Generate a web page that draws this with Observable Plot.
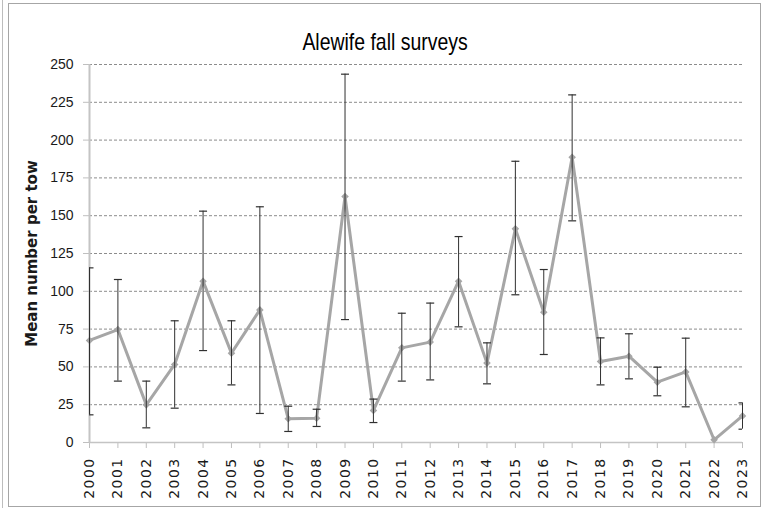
<!DOCTYPE html>
<html>
<head>
<meta charset="utf-8">
<script src="https://cdn.jsdelivr.net/npm/d3@7"></script>
<script src="https://cdn.jsdelivr.net/npm/@observablehq/plot@0.6"></script>
<style>
  body { margin: 0; background: #fff; }
  #wrap { position: relative; width: 770px; height: 508px; overflow: hidden; background: #fff; }
  #frame { position: absolute; left: 8px; top: 3px; width: 753px; height: 504px; border: 1.5px solid #a6a6a6; box-sizing: border-box; pointer-events: none; }
  #edge { position: absolute; left: 2px; top: 0; width: 1px; height: 508px; background: #bdbdbd; }
  #title { position: absolute; left: 0; width: 770px; top: 30px; text-align: center; line-height: 1; }
  #title span { display: inline-block; font-family: "Liberation Sans", Arial, sans-serif; font-size: 24px; color: #000; transform: scaleX(0.81); transform-origin: 50% 50%; white-space: nowrap; }
  #chart { position: absolute; left: 0; top: 0; }
  #chart svg text { fill: #1a1a1a; }
  #chart g[aria-label^="y-axis"] text { font-family: "Liberation Sans", Arial, sans-serif; font-size: 14px; }
  #chart g[aria-label^="x-axis"] text { font-family: "DejaVu Sans", sans-serif; font-size: 14px; letter-spacing: 1.4px; }
  #chart g[aria-label^="x-axis"] line, #chart g[aria-label^="x-axis"] path,
  #chart g[aria-label^="y-axis"] line, #chart g[aria-label^="y-axis"] path { stroke: #bfbfbf; }
</style>
</head>
<body>
<div id="wrap">
  <div id="edge"></div>
  <div id="chart"></div>
  <div id="title"><span id="titleText"></span></div>
  <div id="frame"></div>
</div>
<script>
const titleText = "Alewife fall surveys";
const yLabel = "Mean number per tow";
const years = [2000, 2001, 2002, 2003, 2004, 2005, 2006, 2007, 2008, 2009, 2010, 2011,
               2012, 2013, 2014, 2015, 2016, 2017, 2018, 2019, 2020, 2021, 2022, 2023];
const means = [67.5, 74.7, 24.9, 51.6, 106.7, 59.1, 87.7, 15.7, 16.1, 162.7, 21.2, 62.6,
               66.4, 106.7, 52.5, 141.3, 86.2, 188.7, 53.6, 57.1, 39.9, 46.7, 1.8, 17.6];
const upper = [115.5, 107.8, 40.6, 80.5, 153, 80.5, 155.9, 24, 22, 243.6, 28.7, 85.5,
               92.2, 136.2, 65.9, 186, 114.4, 229.9, 69.2, 71.9, 49.8, 69, null, 26.2];
const lower = [18.3, 40.6, 9.7, 22.7, 60.8, 38.1, 19.2, 7.3, 10.6, 81.3, 13.2, 40.6,
               41.4, 76.5, 38.8, 97.7, 58.2, 146.6, 38.1, 42.1, 30.9, 23.6, null, 8.8];
const yTicks = [0, 25, 50, 75, 100, 125, 150, 175, 200, 225, 250];

document.getElementById("titleText").textContent = titleText;

const rows = years.map((year, i) => ({year, mean: means[i], hi: upper[i], lo: lower[i]}));
const bars = rows.filter(d => d.hi != null && d.lo != null);

// horizontal cap symbol for error bars
const capSymbol = {
  draw(context, size) {
    const w = Math.sqrt(size / Math.PI);
    context.moveTo(-w, 0);
    context.lineTo(w, 0);
  }
};

const chart = Plot.plot({
  width: 770,
  height: 508,
  marginLeft: 89,
  marginRight: 28,
  marginTop: 64,
  marginBottom: 66,
  style: {background: "transparent", fontFamily: "DejaVu Sans, sans-serif", color: "#1a1a1a"},
  x: {type: "point", domain: years, padding: 0, round: false, tickRotate: -90, tickSize: 6, tickPadding: 9, tickFormat: d => String(d), label: null},
  y: {domain: [0, 250], ticks: yTicks, tickSize: 6, tickPadding: 10, label: null},
  marks: [
    Plot.ruleY(yTicks.filter(d => d > 0), {stroke: "#8c8c8c", strokeWidth: 1, strokeDasharray: "3,2"}),
    Plot.ruleY([0], {stroke: "#c4c4c4", strokeWidth: 1.5}),
    Plot.ruleX([years[0]], {stroke: "#c4c4c4", strokeWidth: 2}),
    Plot.line(rows, {x: "year", y: "mean", stroke: "#a6a6a6", strokeWidth: 3}),
    Plot.dot(rows, {x: "year", y: "mean", symbol: "diamond2", r: 3.4, fill: "#a6a6a6", stroke: null}),
    Plot.ruleX(bars, {x: "year", y1: "lo", y2: "hi", stroke: "#303030", strokeWidth: 1}),
    Plot.dot(bars, {x: "year", y: "hi", symbol: capSymbol, r: 4, fill: "none", stroke: "#303030", strokeWidth: 1.2, clip: true}),
    Plot.dot(bars, {x: "year", y: "lo", symbol: capSymbol, r: 4, fill: "none", stroke: "#303030", strokeWidth: 1.2, clip: true}),
    Plot.text([yLabel], {frameAnchor: "left", textAnchor: "middle", rotate: -90, dx: -57, text: d => d, fontWeight: "bold", fontSize: 15, fontFamily: "DejaVu Sans", fill: "#1a1a1a"})
  ]
});
document.getElementById("chart").appendChild(chart);
</script>
</body>
</html>
